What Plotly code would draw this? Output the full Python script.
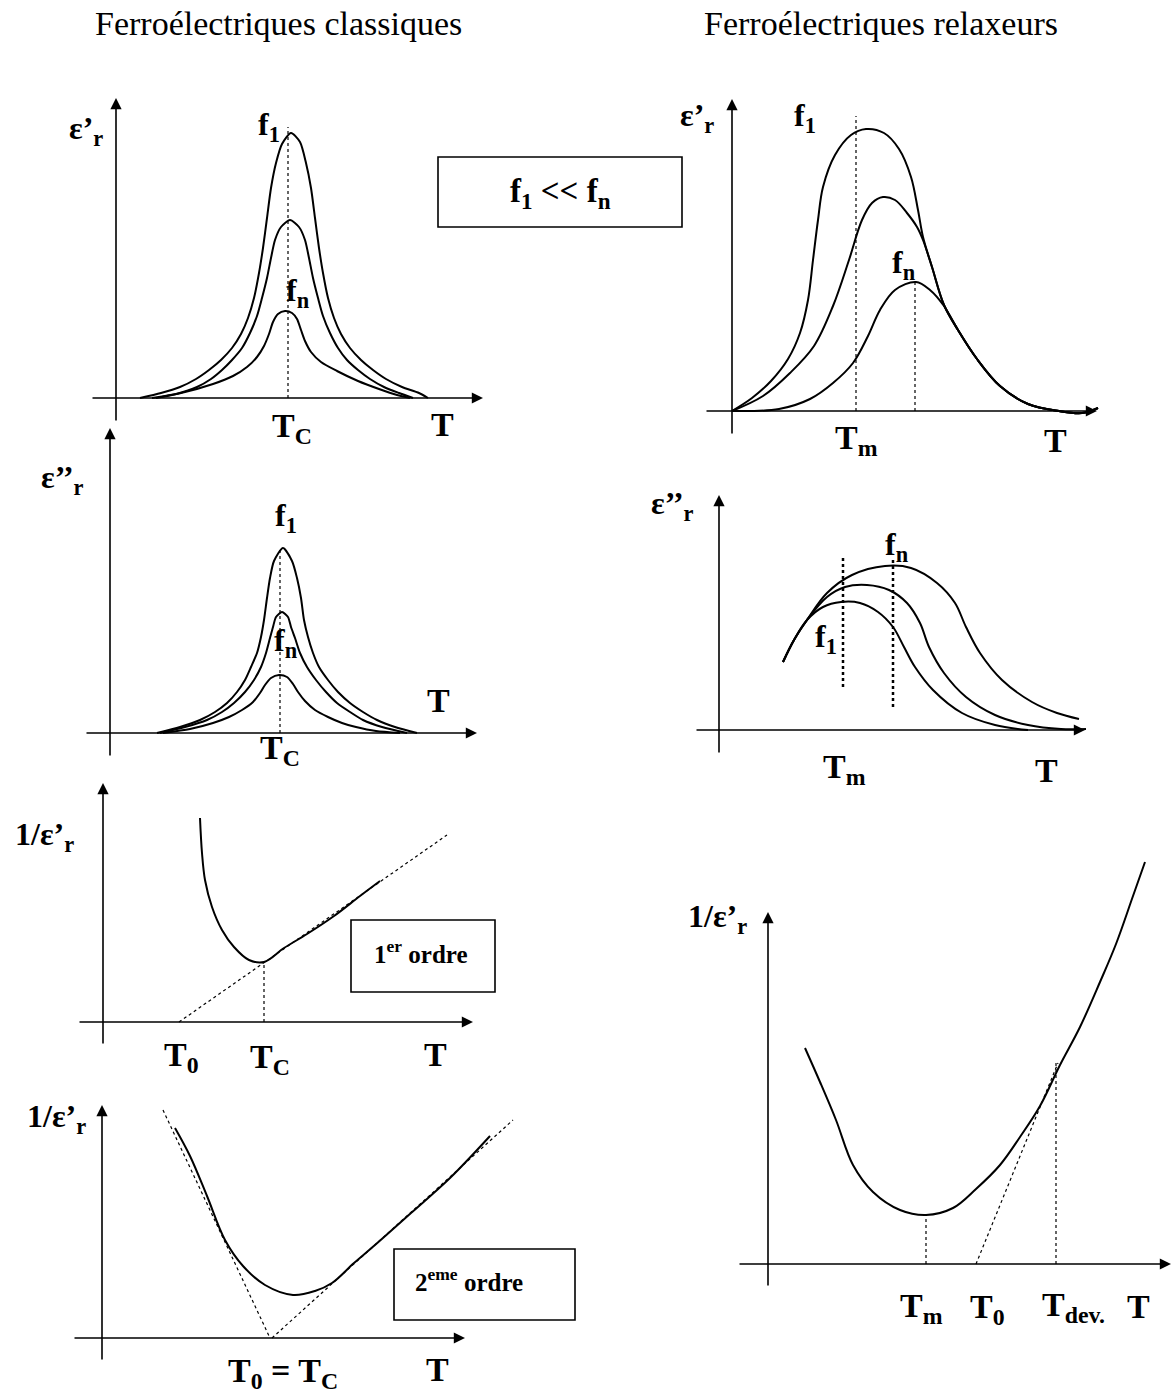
import plotly.graph_objects as go

W, H = 1173, 1396
SERIF = "Liberation Serif"

# --- Ferroélectriques classiques : eps'_r (T, eps) for f1, intermediate, fn
cl_re_f1_T = [24, 45, 64, 80, 93, 105, 116, 125, 132, 138, 143, 147, 151, 155, 160, 166, 175,
              184, 190, 195, 199, 203, 207, 212, 218, 225, 234, 245, 257, 270, 286, 303, 312]
cl_re_f1_E = [0, 5, 11, 19, 28, 38, 50, 64, 80, 100, 125, 150, 180, 210, 235, 254, 265,
              256, 235, 210, 180, 150, 125, 100, 80, 64, 50, 38, 28, 19, 11, 5, 0]
cl_re_mid_T = [40, 60, 81, 95, 106, 116, 126, 134, 141, 146, 151, 155, 159, 165, 174,
               183, 189, 193, 197, 202, 207, 214, 222, 231, 242, 254, 268, 283, 297]
cl_re_mid_E = [0, 4, 11, 19, 28, 38, 50, 65, 82, 100, 120, 140, 158, 171, 178,
               171, 158, 140, 120, 100, 82, 65, 50, 38, 28, 19, 11, 5, 0]
cl_re_fn_T = [36, 65, 97, 117, 131, 141, 148, 153, 157, 162, 169,
              176, 181, 185, 189, 195, 205, 221, 242, 263, 281, 294]
cl_re_fn_E = [0, 5, 14, 22, 31, 41, 52, 64, 76, 84, 87,
              85, 79, 68, 57, 46, 36, 27, 17, 9, 3, 0]
cl_re_Tc = 172

# --- Ferroélectriques classiques : eps''_r
cl_im_f1_T = [47, 70, 90, 105, 117, 127, 135, 141, 147, 151, 154, 157, 160, 164, 173,
              182, 187, 191, 194, 198, 203, 209, 218, 228, 240, 253, 267, 285, 307]
cl_im_f1_E = [0, 6, 13, 21, 30, 41, 53, 66, 80, 96, 113, 135, 155, 172, 185,
              172, 155, 135, 113, 96, 80, 66, 53, 41, 30, 21, 13, 6, 0]
cl_im_mid_T = [50, 75, 97, 112, 124, 135, 144, 151, 156, 160, 163, 166, 172,
               178, 181, 185, 190, 197, 206, 216, 227, 240, 253, 272, 297]
cl_im_mid_E = [0, 6, 13, 21, 30, 41, 53, 66, 80, 95, 106, 116, 121,
               116, 106, 95, 80, 66, 53, 41, 30, 21, 13, 6, 0]
cl_im_fn_T = [53, 80, 103, 119, 132, 143, 150, 155, 161, 169,
              177, 183, 188, 195, 205, 218, 232, 246, 266, 290]
cl_im_fn_E = [0, 4, 10, 16, 23, 31, 40, 48, 55, 58,
              56, 49, 41, 32, 23, 16, 10, 6, 2, 0]
cl_im_Tc = 170

# --- classiques : 1/eps'_r, 1er ordre
o1_T = [97, 99, 102, 109, 119, 131, 146, 161, 181, 204, 231, 257, 277]
o1_E = [204, 169, 142, 115, 92, 75, 62, 60, 74, 88, 106, 126, 141]
o1_line_T = [76, 344]
o1_line_E = [0, 187]
o1_Tc, o1_Tc_E = 161, 60

# --- classiques : 1/eps'_r, 2eme ordre
o2_T = [73, 88, 105, 123, 141, 163, 191, 213, 230, 252, 273, 309, 348, 388]
o2_E = [210, 182, 142, 98, 72, 53, 43, 47, 55, 75, 93, 125, 160, 202]
o2_left_T = [61, 168]
o2_left_E = [228, 0]
o2_right_T = [170, 411]
o2_right_E = [0, 218]

# --- Ferroélectriques relaxeurs : eps'_r
rx_re_f1_T = [0, 20, 39, 56, 68, 76, 81, 86, 91, 103, 119, 134, 152, 167, 179, 186, 191, 200, 212, 226, 245, 268, 296, 327, 350, 366]
rx_re_f1_E = [0, 13, 30, 52, 78, 111, 151, 191, 224, 256, 276, 282, 278, 262, 234, 201, 174, 144, 106, 81, 52, 25, 7, 0, -2, 3]
rx_re_mid_T = [0, 31, 58, 82, 101, 117, 130, 140, 151, 163, 175, 185, 191, 200, 212, 226, 245, 268, 296, 327, 350, 366]
rx_re_mid_E = [0, 15, 38, 65, 105, 151, 191, 208, 214, 211, 198, 184, 171, 144, 106, 81, 52, 25, 7, 0, -2, 3]
rx_re_fn_T = [0, 47, 78, 101, 121, 136, 148, 163, 184, 198, 212, 226, 245, 268, 296, 327, 350, 366]
rx_re_fn_E = [0, 2, 12, 28, 48, 75, 101, 121, 129, 121, 105, 81, 52, 25, 7, 0, -2, 3]
rx_re_Tm1, rx_re_Tm1_top = 124, 295
rx_re_Tmn, rx_re_Tmn_top = 183, 129

# --- relaxeurs : eps''_r
rx_im_fn_T = [64, 75, 88, 108, 133, 166, 192, 218, 236, 247, 261, 283, 313, 338, 360]
rx_im_fn_E = [68, 90, 110, 137, 155, 164, 162, 147, 127, 103, 77, 50, 28, 17, 11]
rx_im_mid_T = [64, 75, 88, 108, 126, 148, 170, 188, 201, 210, 225, 247, 276, 309, 342, 367]
rx_im_mid_E = [68, 90, 110, 133, 143, 145, 140, 127, 107, 83, 57, 33, 15, 5, 1, 1]
rx_im_f1_T = [64, 75, 88, 104, 122, 141, 159, 174, 185, 196, 214, 243, 276, 309]
rx_im_f1_E = [68, 90, 110, 123, 128, 127, 118, 103, 83, 63, 40, 17, 5, 0]
rx_im_dot1_T = [124, 124]
rx_im_dot1_E = [43, 172]
rx_im_dot2_T = [174, 174]
rx_im_dot2_E = [23, 173]

# --- relaxeurs : 1/eps'_r
rx_inv_T = [37, 52, 68, 85, 105, 132, 158, 185, 208, 232, 252, 272, 292, 312, 332, 348, 365, 377]
rx_inv_E = [216, 182, 144, 99, 72, 54, 49, 56, 75, 99, 127, 158, 199, 237, 282, 320, 368, 402]
rx_inv_Tm, rx_inv_Tm_E = 158, 49
rx_inv_line_T = [208, 290]
rx_inv_line_E = [0, 201]
rx_inv_Tdev, rx_inv_Tdev_E = 288, 201

# panel frames in page pixels: origin_x, origin_y, left, top, right, bottom,
# axis extents (T from, T to, E from, E to)
panels = [
    (116, 398, 60, 85, 505, 445, -25, 367, -24, 300),
    (732, 411, 680, 85, 1110, 450, -27, 365, -24, 312),
    (110, 733, 60, 420, 505, 770, -25, 367, -24, 305),
    (719, 730, 680, 480, 1110, 790, -24, 366, -24, 235),
    (103, 1022, 60, 770, 505, 1060, -25, 370, -23, 239),
    (102, 1338, 60, 1090, 530, 1390, -29, 363, -23, 233),
    (768, 1264, 720, 840, 1173, 1290, -30, 403, -23, 352),
]

fig = go.Figure()
annotations = []
for i, (ox, oy, l, t, r, b, x0, x1, y0, y1) in enumerate(panels, start=1):
    s = "" if i == 1 else str(i)
    fig.layout[f"xaxis{s}"] = dict(domain=[l / W, r / W], range=[l - ox, r - ox], visible=False,
                                   anchor=f"y{s}", fixedrange=True)
    fig.layout[f"yaxis{s}"] = dict(domain=[1 - b / H, 1 - t / H], range=[oy - b, oy - t], visible=False,
                                   anchor=f"x{s}", fixedrange=True)
    for (tx, ty, fx, fy) in [(x1, 0, x0, 0), (0, y1, 0, y0)]:
        annotations.append(dict(x=tx, y=ty, ax=fx, ay=fy, xref=f"x{s}", yref=f"y{s}",
                                axref=f"x{s}", ayref=f"y{s}", showarrow=True, text="",
                                arrowhead=2, arrowsize=1.4, arrowwidth=1.6, arrowcolor="black",
                                standoff=0))


def curve(T, E, panel, width=2.0, dash=None, spline=True, smooth=0.7):
    s = "" if panel == 1 else str(panel)
    fig.add_trace(go.Scatter(
        x=T, y=E, mode="lines", xaxis=f"x{s}", yaxis=f"y{s}",
        line=dict(color="black", width=width, dash=dash,
                  shape="spline" if spline else "linear", smoothing=smooth),
        hoverinfo="skip", showlegend=False, cliponaxis=False))


# classiques eps'
curve(cl_re_f1_T, cl_re_f1_E, 1)
curve(cl_re_mid_T, cl_re_mid_E, 1)
curve(cl_re_fn_T, cl_re_fn_E, 1)
curve([cl_re_Tc, cl_re_Tc], [0, 271], 1, width=1.2, dash="dot", spline=False)
# classiques eps''
curve(cl_im_f1_T, cl_im_f1_E, 3)
curve(cl_im_mid_T, cl_im_mid_E, 3)
curve(cl_im_fn_T, cl_im_fn_E, 3)
curve([cl_im_Tc, cl_im_Tc], [0, 185], 3, width=1.2, dash="dot", spline=False)
# 1er ordre
curve(o1_T, o1_E, 5, smooth=1.0)
curve(o1_line_T, o1_line_E, 5, width=1.2, dash="dot", spline=False)
curve([o1_Tc, o1_Tc], [0, o1_Tc_E], 5, width=1.2, dash="dot", spline=False)
# 2eme ordre
curve(o2_T, o2_E, 6, smooth=1.0)
curve(o2_left_T, o2_left_E, 6, width=1.2, dash="dot", spline=False)
curve(o2_right_T, o2_right_E, 6, width=1.2, dash="dot", spline=False)
# relaxeurs eps'
curve(rx_re_f1_T, rx_re_f1_E, 2, smooth=1.0)
curve(rx_re_mid_T, rx_re_mid_E, 2, smooth=1.0)
curve(rx_re_fn_T, rx_re_fn_E, 2, smooth=1.0)
curve([rx_re_Tm1, rx_re_Tm1], [0, rx_re_Tm1_top], 2, width=1.2, dash="dot", spline=False)
curve([rx_re_Tmn, rx_re_Tmn], [0, rx_re_Tmn_top], 2, width=1.2, dash="dot", spline=False)
# relaxeurs eps''
curve(rx_im_fn_T, rx_im_fn_E, 4, smooth=1.0)
curve(rx_im_mid_T, rx_im_mid_E, 4, smooth=1.0)
curve(rx_im_f1_T, rx_im_f1_E, 4, smooth=1.0)
curve(rx_im_dot1_T, rx_im_dot1_E, 4, width=2.5, dash="dot", spline=False)
curve(rx_im_dot2_T, rx_im_dot2_E, 4, width=2.5, dash="dot", spline=False)
# relaxeurs 1/eps'
curve(rx_inv_T, rx_inv_E, 7, smooth=1.0)
curve([rx_inv_Tm, rx_inv_Tm], [0, rx_inv_Tm_E], 7, width=1.2, dash="dot", spline=False)
curve(rx_inv_line_T, rx_inv_line_E, 7, width=1.2, dash="dot", spline=False)
curve([rx_inv_Tdev, rx_inv_Tdev], [0, rx_inv_Tdev_E], 7, width=1.2, dash="dot", spline=False)


def label(text, x, y, size=32, bold=True, family=SERIF):
    annotations.append(dict(
        x=x / W, y=1 - y / H, xref="paper", yref="paper", showarrow=False,
        text=f"<b>{text}</b>" if bold else text, xanchor="center", yanchor="middle",
        font=dict(family=family, size=size, color="black")))


label("Ferroélectriques classiques", 278, 23, size=34, bold=False)
label("Ferroélectriques relaxeurs", 881, 23, size=34, bold=False)

eps1 = "ε’<sub>r</sub>"
eps2 = "ε’’<sub>r</sub>"
inv = "1/ε’<sub>r</sub>"
f1 = "f<sub>1</sub>"
fn = "f<sub>n</sub>"
TS = 34

# classiques
label(eps1, 86, 130)
label(f1, 269, 127)
label(fn, 298, 292)
label("T<sub>C</sub>", 292, 428, size=TS)
label("T", 442, 424, size=TS)
label(eps2, 62, 480)
label(f1, 286, 517)
label(fn, 286, 642)
label("T", 438, 700, size=TS)
label("T<sub>C</sub>", 280, 750, size=TS)
label(inv, 44, 836)
label("T<sub>0</sub>", 182, 1057, size=TS)
label("T<sub>C</sub>", 270, 1059, size=TS)
label("T", 435, 1054, size=TS)
label(inv, 57, 1118)
label("T<sub>0</sub> = T<sub>C</sub>", 283, 1373, size=TS)
label("T", 437, 1369, size=TS)
# relaxeurs
label(eps1, 697, 117)
label(f1, 805, 117)
label(fn, 904, 264)
label("T<sub>m</sub>", 856, 440, size=TS)
label("T", 1055, 440, size=TS)
label(eps2, 672, 505)
label(fn, 897, 546)
label(f1, 826, 638)
label("T<sub>m</sub>", 844, 769, size=TS)
label("T", 1046, 770, size=TS)
label(inv, 718, 918)
label("T<sub>m</sub>", 921, 1308, size=TS)
label("T<sub>0</sub>", 987, 1309, size=TS)
label("T<sub>dev.</sub>", 1073, 1307, size=TS)
label("T", 1138, 1306, size=TS)

# boxed notes
boxes = [
    (438, 157, 682, 227, f"{f1} << {fn}", 560, 193, 33),
    (351, 920, 495, 992, "1<sup>er</sup> ordre", 421, 952, 25),
    (394, 1249, 575, 1320, "2<sup>eme</sup> ordre", 469, 1280, 25),
]
shapes = []
for (bx0, by0, bx1, by1, txt, tx, ty, fs) in boxes:
    shapes.append(dict(type="rect", xref="paper", yref="paper", x0=bx0 / W, x1=bx1 / W,
                       y0=1 - by1 / H, y1=1 - by0 / H, line=dict(color="black", width=1.6)))
    label(txt, tx, ty, size=fs)

fig.update_layout(
    width=W, height=H, margin=dict(l=0, r=0, t=0, b=0),
    paper_bgcolor="white", plot_bgcolor="rgba(0,0,0,0)",
    annotations=annotations, shapes=shapes, showlegend=False,
)

fig.write_html("out.html", config={"displayModeBar": False},
               post_script="document.body.style.margin='0';document.body.style.overflow='hidden';")
